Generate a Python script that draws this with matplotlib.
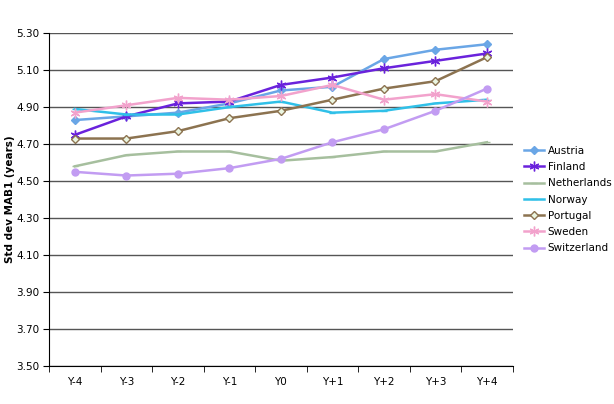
import numpy as np
import matplotlib
matplotlib.use("Agg")
import matplotlib.pyplot as plt

years = ["Y-4", "Y-3", "Y-2", "Y-1", "Y0", "Y+1", "Y+2", "Y+3", "Y+4"]

austria = [4.83, 4.85, 4.87, 4.92, 4.99, 5.01, 5.16, 5.21, 5.24]
finland = [4.75, 4.85, 4.92, 4.93, 5.02, 5.06, 5.11, 5.15, 5.19]
netherlands = [4.58, 4.64, 4.66, 4.66, 4.61, 4.63, 4.66, 4.66, 4.71]
norway = [4.89, 4.86, 4.86, 4.90, 4.93, 4.87, 4.88, 4.92, 4.94]
portugal = [4.73, 4.73, 4.77, 4.84, 4.88, 4.94, 5.00, 5.04, 5.17]
sweden = [4.87, 4.91, 4.95, 4.94, 4.96, 5.02, 4.94, 4.97, 4.93]
switzerland = [4.55, 4.53, 4.54, 4.57, 4.62, 4.71, 4.78, 4.88, 5.00]

series = [
    ("Austria", austria, "#6aa6e6", "D", 4, "#6aa6e6"),
    ("Finland", finland, "#6a22dc", (6, 2, 0), 7, "#6a22dc"),
    ("Netherlands", netherlands, "#a6bf9e", "_", 5, "#a6bf9e"),
    ("Norway", norway, "#30c0e8", "_", 5, "#30c0e8"),
    ("Portugal", portugal, "#8c7350", "D", 4, "#eaf5e0"),
    ("Sweden", sweden, "#f2a2cc", (6, 2, 0), 7, "#f2a2cc"),
    ("Switzerland", switzerland, "#c29cf2", "o", 5, "#c29cf2"),
]

plt.rcParams["font.family"] = ["DejaVu Sans"]
fig = plt.figure(figsize=(6.14, 4.04), dpi=100)
ax = fig.add_axes([0.08, 0.094, 0.755, 0.824])

x = np.arange(len(years))
for name, vals, col, mk, ms, fc in series:
    ax.plot(x, vals, color=col, lw=1.8, marker=mk, markersize=ms,
            markerfacecolor=fc, markeredgecolor=col, markeredgewidth=1.0,
            label=name)

ax.set_xlim(-0.5, len(years) - 0.5)
ax.set_ylim(3.5, 5.3)
ticks = np.arange(3.5, 5.31, 0.2)
ax.set_yticks(ticks)
ax.set_yticklabels(["%.2f" % v for v in ticks], fontsize=7.5)
ax.set_xticks(x)
ax.set_xticklabels(years, fontsize=7.5)
ax.set_xticks(np.arange(-0.5, len(years)), minor=True)
ax.tick_params(axis="x", which="major", length=0, pad=8)
ax.tick_params(axis="x", which="minor", length=4, direction="out")
ax.tick_params(axis="y", length=4, direction="out", pad=3)
ax.yaxis.grid(True, color="#555555", lw=1)
ax.set_axisbelow(True)
for s in ["top", "right"]:
    ax.spines[s].set_visible(False)
ax.set_ylabel("Std dev MAB1 (years)", fontsize=7.5, fontweight="bold")
ax.yaxis.set_label_coords(-0.074, 0.5)

ax.legend(loc="center left", bbox_to_anchor=(1.01, 0.5), frameon=False,
          fontsize=7.5, handlelength=2.0, labelspacing=0.6, handletextpad=0.3,
          borderaxespad=0.2)

fig.savefig("out.png", dpi=100)
